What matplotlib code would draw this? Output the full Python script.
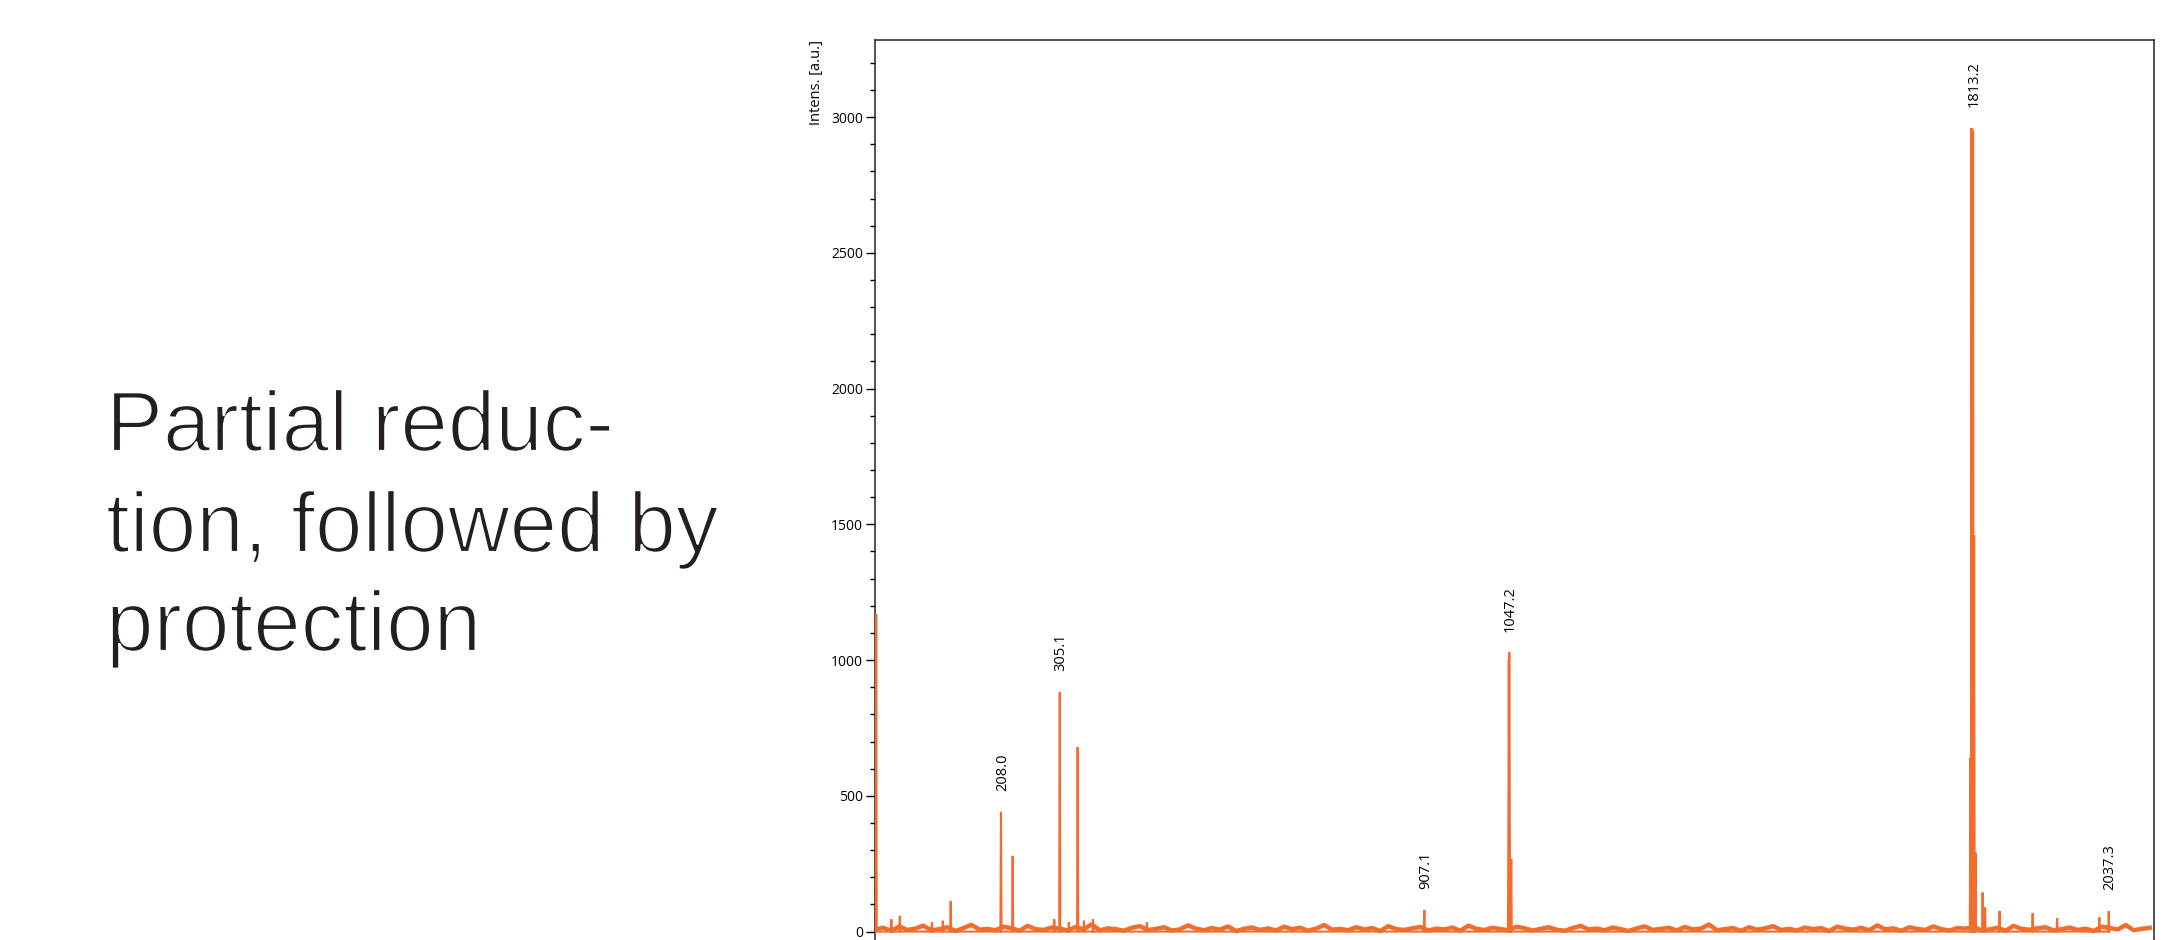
import numpy as np
import matplotlib
matplotlib.use('Agg')
import matplotlib.pyplot as plt
import matplotlib.patheffects as pe

# peak list (m/z, intensity)
peak_mz = [2.0, 27, 41, 94, 112, 125, 208.0, 227.3, 296, 305.1, 320, 334.6,
           345, 360, 449, 907.1, 1045.8, 1046.6, 1047.4, 1050.6, 1808.8, 1810.6,
           1813.2, 1815.0, 1817.2, 1829, 1833, 1857, 1911.6, 1952, 2021.7, 2037.3]
peak_int = [1170, 45, 58, 35, 40, 113, 441, 279, 45, 883, 35, 680,
            40, 45, 35, 80, 120, 1000, 1028, 268, 640, 2960,
            2950, 1460, 290, 144, 90, 76, 68, 50, 52, 76]

# labelled peaks
label_mz = [208.0, 305.1, 907.1, 1047.2, 1813.2, 2037.3]
label_int = [441, 883, 80, 1028, 2960, 76]
label_txt = ['208.0', '305.1', '907.1', '1047.2', '1813.2', '2037.3']

# baseline noise level, read roughly along the axis
noise_int = [8, 14, 3, 19, 6, 11, 22, 4, 9, 16, 2, 13, 25, 7, 10, 5, 18, 12, 3, 21,
             9, 6, 15, 11, 4, 17, 8, 27, 5, 12, 9, 3, 14, 20, 6, 10, 16, 4, 8, 23,
             11, 5, 13, 7, 19, 2, 10, 15, 6, 12, 4, 18, 9, 14, 3, 11, 24, 7, 10, 5,
             16, 8, 13, 2, 20, 9, 6, 12, 17, 4, 11, 8, 15, 3, 22, 10, 6, 14, 9, 5,
             18, 12, 4, 10, 16, 7, 3, 13, 21, 8, 11, 5, 15, 9, 2, 12, 19, 6, 10, 14,
             4, 17, 8, 11, 26, 5, 9, 13, 3, 16, 7, 12, 20, 6, 10, 4, 15, 9, 13, 2,
             18, 11, 7, 14, 5, 23, 8, 12, 3, 16, 10, 6, 19, 9, 4, 13, 11, 17, 5, 8,
             14, 3, 21, 10, 7, 12, 16, 4, 9, 15, 6, 11, 2, 18, 13, 8, 24, 5, 10, 14]

title_lines = ['Partial reduc-', 'tion, followed by', 'protection']

orange = '#F26C2E'

fig = plt.figure(figsize=(21.64, 9.4), dpi=100)
ax = fig.add_axes([875/2164, 0.0, (2154-875)/2164, 1 - 40/940])

# build a thin triangle for every peak
hw = 0.9
xs, ys = [], []
for m, h in sorted(zip(peak_mz, peak_int)):
    xs += [m - hw, m, m + hw]
    ys += [0, h, 0]
ax.plot(xs, ys, color=orange, lw=1.5, solid_joinstyle='miter', zorder=3)

noise_mz = np.linspace(0.5, 2105, len(noise_int))
ax.plot(noise_mz, noise_int, color=orange, lw=3.2, zorder=3)

for m, h, t in zip(label_mz, label_int, label_txt):
    ax.annotate(t, (m, h), xytext=(1, 15), textcoords='offset points',
                rotation=90, ha='center', va='bottom', fontsize=10.5,
                family='Open Sans')

ax.set_xlim(0, 2112)
ax.set_ylim(-31, 3284)
ax.set_yticks([0, 500, 1000, 1500, 2000, 2500, 3000])
ax.set_yticks(np.arange(0, 3300, 100), minor=True)
ax.tick_params(axis='y', which='major', length=6.5, width=1, labelsize=10, pad=2)
ax.tick_params(axis='y', which='minor', length=3.5, width=1)
for lab in ax.get_yticklabels():
    lab.set_family('Open Sans')
ax.set_xticks([])
ax.spines['bottom'].set_visible(False)
for s in ['left', 'top', 'right']:
    ax.spines[s].set_linewidth(1.1)
    ax.spines[s].set_color('#222222')

ax.set_ylabel('Intens. [a.u.]', loc='top', fontsize=10.5, family='Open Sans', labelpad=5)

# white outline on top of the glyphs makes the strokes a little lighter
thin = [pe.Normal(), pe.Stroke(linewidth=1.6, foreground='white')]
baselines = [451, 552, 651]
for line, b in zip(title_lines, baselines):
    fig.text(0.049, 1 - b/940, line, fontsize=61.5, family='Liberation Sans',
             color='#231F20', va='baseline', ha='left', path_effects=thin)

fig.savefig('out.png', dpi=100)
